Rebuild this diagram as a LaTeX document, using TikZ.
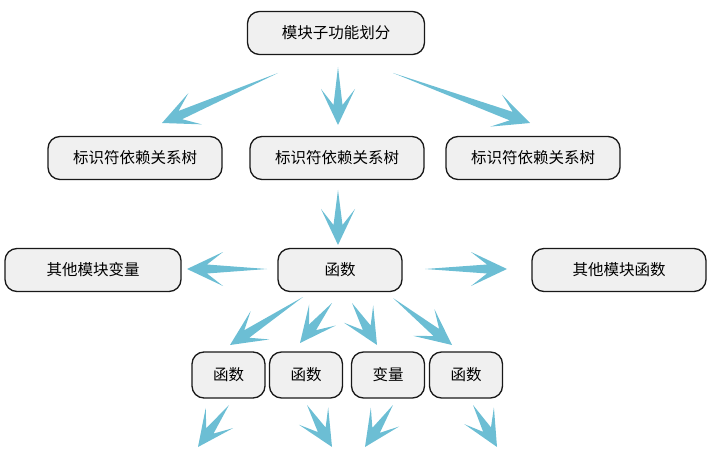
\documentclass[tikz,border=0pt]{standalone}
\usepackage{fontspec}
\newfontfamily\cjk{Noto Sans CJK SC}
\usetikzlibrary{calc}
\definecolor{dartblue}{RGB}{108,190,212}
\definecolor{boxfill}{RGB}{240,240,240}
\tikzset{
  boxnode/.style={draw=black!90, line width=1.3pt, fill=boxfill, rounded corners=12pt,
    inner sep=0pt, font=\cjk\fontsize{15.5}{18}\selectfont, text=black},
  dartfill/.style={fill=dartblue}
}
\newcommand\dart[2]{%
  \fill[dartfill] (#1)
    -- ($(#2)!20pt!(#1)!4.5pt!90:(#1)$)
    -- ($(#2)!36pt!(#1)!17pt!90:(#1)$)
    -- (#2)
    -- ($(#2)!36pt!(#1)!17pt!-90:(#1)$)
    -- ($(#2)!20pt!(#1)!4.5pt!-90:(#1)$)
    -- cycle;}
\begin{document}
\begin{tikzpicture}[x=1pt,y=-1pt]
\useasboundingbox (0,0) rectangle (712,465);
% nodes
\node[boxnode, minimum width=177pt, minimum height=43pt] (top) at (336,33) {模块子功能划分};
\node[boxnode, minimum width=174pt, minimum height=43pt] (l2a) at (135,158) {标识符依赖关系树};
\node[boxnode, minimum width=174pt, minimum height=43pt] (l2b) at (337,158) {标识符依赖关系树};
\node[boxnode, minimum width=174pt, minimum height=43pt] (l2c) at (533,158) {标识符依赖关系树};
\node[boxnode, minimum width=124pt, minimum height=43pt] (fn) at (340,270) {函数};
\node[boxnode, minimum width=176pt, minimum height=43pt] (ov) at (93,270) {其他模块变量};
\node[boxnode, minimum width=174pt, minimum height=43pt] (of) at (619,270) {其他模块函数};
\node[boxnode, minimum width=73pt, minimum height=46pt] (b1) at (228.5,375) {函数};
\node[boxnode, minimum width=73pt, minimum height=46pt] (b2) at (306,375) {函数};
\node[boxnode, minimum width=73pt, minimum height=46pt] (b3) at (388,375) {变量};
\node[boxnode, minimum width=73pt, minimum height=46pt] (b4) at (466,375) {函数};
% arrow end points
\coordinate (t1) at (278,73);  \coordinate (p1) at (162,123);
\coordinate (t2) at (338,67);  \coordinate (p2) at (338,125);
\coordinate (t3) at (393,73);  \coordinate (p3) at (530,123);
\coordinate (t4) at (338,190); \coordinate (p4) at (338,245);
\coordinate (t5) at (267,269); \coordinate (p5) at (187,269);
\coordinate (t6) at (425,269); \coordinate (p6) at (507,269);
\coordinate (t7) at (303,297); \coordinate (p7) at (230,345);
\coordinate (t8) at (332,303); \coordinate (p8) at (300,343);
\coordinate (t9) at (352,303); \coordinate (p9) at (377,345);
\coordinate (t10) at (393,298); \coordinate (p10) at (452,345);
\coordinate (t11) at (229,405); \coordinate (p11) at (198,447);
\coordinate (t12) at (307,405); \coordinate (p12) at (332,447);
\coordinate (t13) at (393,405); \coordinate (p13) at (365,447);
\coordinate (t14) at (473,405); \coordinate (p14) at (497,447);
\foreach \i in {1,...,14} {\dart{t\i}{p\i}}
\end{tikzpicture}
\end{document}
